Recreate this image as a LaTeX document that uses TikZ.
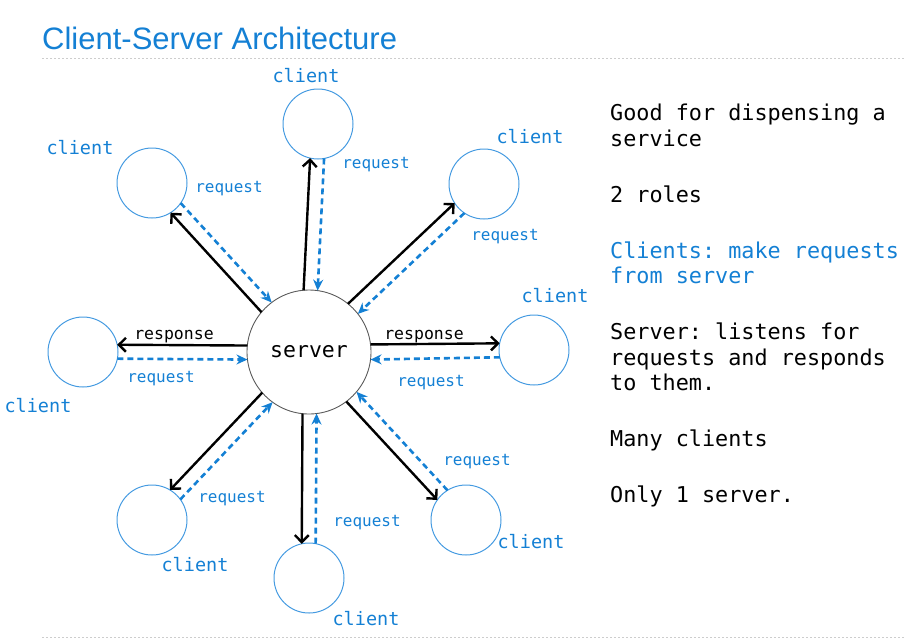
\documentclass[tikz,border=0pt]{standalone}
\usepackage{fontspec}
\setmainfont{Liberation Sans}
\setmonofont{DejaVu Sans Mono}
\usetikzlibrary{arrows.meta}
\definecolor{keyblue}{RGB}{20,128,212}
\definecolor{ringblue}{RGB}{70,155,225}
\definecolor{rulegray}{RGB}{205,205,205}
\tikzset{
    client/.style={circle,draw=ringblue,line width=1pt,minimum size=70pt,inner sep=0pt,outer sep=0pt},
    server/.style={circle,draw=black!65,line width=0.9pt,minimum size=124pt,inner sep=0pt,outer sep=0pt,font=\ttfamily\fontsize{21.5}{24}\selectfont},
    clientlabel/.style={text=keyblue,inner sep=0pt,font=\ttfamily\fontsize{18.5}{20}\selectfont},
    reqlabel/.style={text=keyblue,inner sep=0pt,font=\ttfamily\fontsize{16}{18}\selectfont},
    resplabel/.style={inner sep=0pt,font=\ttfamily\fontsize{16.5}{18}\selectfont},
    response/.style={line width=2.4pt,-{Straight Barb[length=7pt,width=14pt,line width=2.4pt]}},
    request/.style={keyblue,line width=2.6pt,dash pattern=on 6pt off 4pt,-{Stealth[length=11pt,width=10pt]}},
    dotrule/.style={rulegray,line width=1pt,dash pattern=on 2pt off 2pt}
}
\begin{document}
\begin{tikzpicture}[x=1pt,y=-1pt]
    \useasboundingbox (0,0) rectangle (920,643);

    \node[anchor=base west,inner sep=0pt,text=keyblue,font=\fontsize{31}{34}\selectfont] (title) at (42,49.5) {Client-Server Architecture};
    \coordinate (topa) at (42,58);
    \coordinate (topb) at (905,58);
    \coordinate (bota) at (42,637);
    \coordinate (botb) at (905,637);
    \draw[dotrule] (topa) -- (topb);
    \draw[dotrule] (bota) -- (botb);

    \node[server] (srv) at (309,352) {server};
    \node[client] (ct) at (318,124) {};
    \node[client] (ctl) at (152,183) {};
    \node[client] (ctr) at (484,184) {};
    \node[client] (cr) at (534,350) {};
    \node[client] (cl) at (83,352) {};
    \node[client] (cbl) at (152,520) {};
    \node[client] (cb) at (309,578) {};
    \node[client] (cbr) at (466,520) {};

    \foreach \name/\ang/\s in {ct/88/1, ctl/133/1, ctr/44/1, cr/0/1, cl/180/-1, cbl/227/-1, cb/270/-1, cbr/313/-1}
    {
        \pgfmathtruncatemacro\sa{mod(round(\ang+\s*6.5)+360,360)}
        \pgfmathtruncatemacro\sb{mod(round(\ang-\s*6.5)+360,360)}
        \pgfmathtruncatemacro\ca{mod(round(\ang+180-\s*11.5)+360,360)}
        \pgfmathtruncatemacro\cb{mod(round(\ang+180+\s*11.5)+360,360)}
        \draw[response] (srv.\sa) -- (\name.\ca);
        \draw[request] (\name.\cb) -- (srv.\sb);
    }

    \node[clientlabel] (lct) at (306,76) {client};
    \node[clientlabel] (lctl) at (80,148) {client};
    \node[clientlabel] (lctr) at (530,137) {client};
    \node[clientlabel] (lcr) at (555,296) {client};
    \node[clientlabel] (lcl) at (38,406) {client};
    \node[clientlabel] (lcbl) at (195,565) {client};
    \node[clientlabel] (lcb) at (366,619) {client};
    \node[clientlabel] (lcbr) at (531,542) {client};

    \node[reqlabel] (rct) at (376,165) {request};
    \node[reqlabel] (rctl) at (229,189) {request};
    \node[reqlabel] (rctr) at (505,237) {request};
    \node[reqlabel] (rcr) at (431,383) {request};
    \node[reqlabel] (rcl) at (161,379) {request};
    \node[reqlabel] (rcbl) at (232,499) {request};
    \node[reqlabel] (rcb) at (367,523) {request};
    \node[reqlabel] (rcbr) at (477,462) {request};

    \node[resplabel] (pcl) at (174,337) {response};
    \node[resplabel] (pcr) at (424,337) {response};

    \node[anchor=north west,inner sep=0pt,align=left,font=\ttfamily\fontsize{21.8}{25.5}\selectfont] (notes) at (610,104) {Good for dispensing a\\service\\[30.5pt]2 roles\\[30.5pt]{\color{keyblue}Clients: make requests}\\{\color{keyblue}from server}\\[30.5pt]Server: listens for\\requests and responds\\to them.\\[30.5pt]Many clients\\[30.5pt]Only 1 server.};
\end{tikzpicture}
\end{document}
